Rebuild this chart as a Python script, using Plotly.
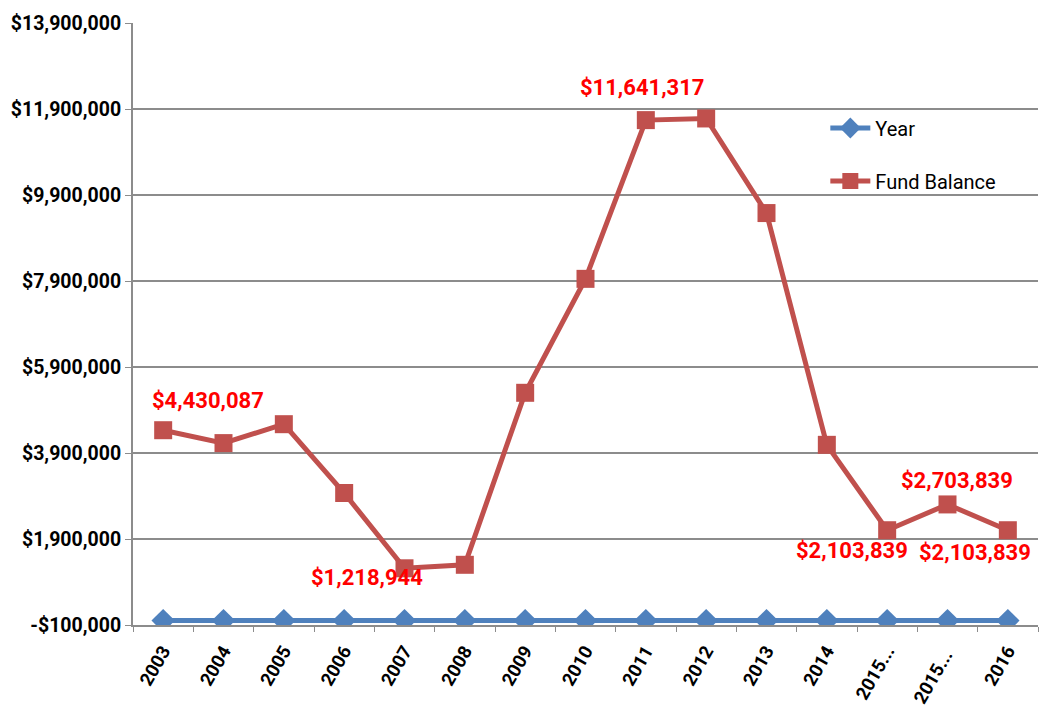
import plotly.graph_objects as go

# Category labels along the x axis
categories = ["2003", "2004", "2005", "2006", "2007", "2008", "2009", "2010",
              "2011", "2012", "2013", "2014", "2015...", "2015... ", "2016"]

# Year series (plotted on the same dollar axis, so it sits near zero)
year_values = [2003, 2004, 2005, 2006, 2007, 2008, 2009, 2010,
               2011, 2012, 2013, 2014, 2015, 2015, 2016]

# Fund balance in dollars
fund_balance = [4430087, 4130000, 4570000, 2970000, 1218944, 1300000, 5300000,
                7950000, 11641317, 11680000, 9480000, 4090000, 2103839,
                2703839, 2103839]

# Y axis ticks
y_ticks = [-100000, 1900000, 3900000, 5900000, 7900000, 9900000, 11900000, 13900000]
y_tick_text = ["-$100,000", "$1,900,000", "$3,900,000", "$5,900,000",
               "$7,900,000", "$9,900,000", "$11,900,000", "$13,900,000"]

# Which points carry a value label, with pixel offsets for label placement
label_points = {0: (45, -30), 4: (-38, 9), 8: (-4, -33),
                12: (-35, 20), 13: (9, -24), 14: (-33, 22)}

FONT = "Roboto, Arial, sans-serif"
BLUE = "#4F81BD"
RED = "#C0504D"

fig = go.Figure()
fig.add_trace(go.Scatter(
    x=categories, y=year_values, name="Year", mode="lines+markers",
    line=dict(color=BLUE, width=5), legendgroup="a",
    marker=dict(symbol="diamond", size=18, color=BLUE),
))
fig.add_trace(go.Scatter(
    x=categories, y=fund_balance, name="Fund Balance", mode="lines+markers",
    line=dict(color=RED, width=5), legendgroup="b",
    marker=dict(symbol="square", size=18, color=RED),
))

for i, (dx, dy) in label_points.items():
    # category axes take the point index for annotation positions
    fig.add_annotation(
        x=i, y=fund_balance[i], text=f"${fund_balance[i]:,}",
        showarrow=False, xshift=dx, yshift=-dy,
        font=dict(family=FONT, size=22, color="#FF0000", weight="bold"),
    )

fig.update_layout(
    width=1044, height=707,
    margin=dict(l=133, r=6, t=23, b=82),
    paper_bgcolor="white", plot_bgcolor="white",
    showlegend=True,
    legend=dict(
        x=0.765, y=0.858, xanchor="left", yanchor="top",
        font=dict(family=FONT, size=20, color="black"),
        bgcolor="rgba(0,0,0,0)", itemwidth=40,
        traceorder="grouped", tracegroupgap=24,
    ),
    xaxis=dict(
        type="category", range=[-0.5, 14.5], automargin=False,
        tickangle=-60, tickson="boundaries", ticks="outside", ticklen=5,
        tickcolor="#8c8c8c", ticklabelstandoff=6,
        tickfont=dict(family=FONT, size=18.5, color="black", weight="bold"),
        showgrid=False, showline=True, linecolor="#8c8c8c", linewidth=2,
        zeroline=False,
    ),
    yaxis=dict(
        range=[-100000, 13900000], automargin=False,
        tickvals=y_ticks, ticktext=y_tick_text,
        ticks="outside", ticklen=6, tickcolor="#8c8c8c",
        tickfont=dict(family=FONT, size=19.5, color="black", weight="bold"),
        showgrid=True, gridcolor="#8c8c8c", gridwidth=2,
        showline=True, linecolor="#8c8c8c", linewidth=2,
        zeroline=False,
    ),
)

fig.write_html("out.html")
